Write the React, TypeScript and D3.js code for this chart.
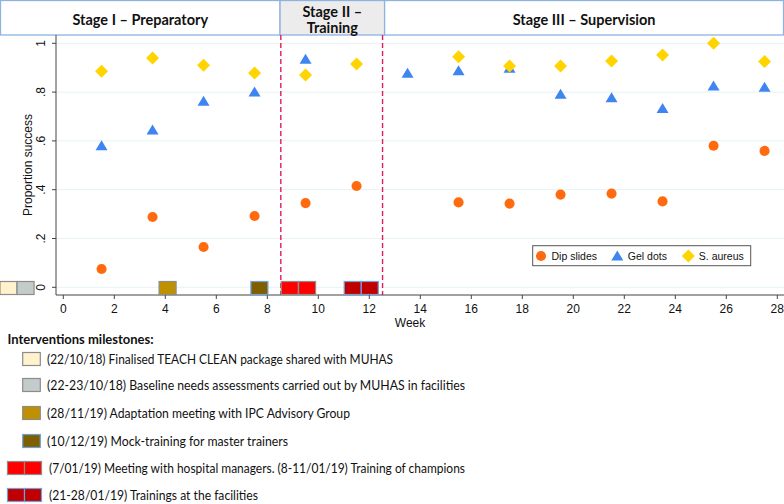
import React from "react";
import * as d3 from "d3";

const weeks = [1.5, 3.5, 5.5, 7.5, 9.5, 11.5, 13.5, 15.5, 17.5, 19.5, 21.5, 23.5, 25.5, 27.5];
const dipSlides: (number | null)[] = [0.075, 0.288, 0.165, 0.292, 0.345, 0.415, null, 0.348, 0.343, 0.38, 0.384, 0.352, 0.58, 0.559];
const gelDots: (number | null)[] = [0.58, 0.645, 0.763, 0.8, 0.935, null, 0.877, 0.888, 0.898, 0.791, 0.777, 0.733, 0.825, 0.82];
const sAureus: (number | null)[] = [0.885, 0.94, 0.91, 0.878, 0.87, 0.915, null, 0.945, 0.907, 0.907, 0.927, 0.952, 1.0, 0.925];

const xTicks = [0, 2, 4, 6, 8, 10, 12, 14, 16, 18, 20, 22, 24, 26, 28];
const yTicks = [0, 0.2, 0.4, 0.6, 0.8, 1];
const yTickLabels = ["0", ".2", ".4", ".6", ".8", "1"];

const stageNames = ["Stage I \u2013 Preparatory", "Stage II \u2013|Training", "Stage III \u2013 Supervision"];
const stageBounds = [[-2.48, 8.5], [8.5, 12.6], [12.6, 28.3]];
const trainingWindow = [8.53, 12.52];

const milestoneWeeks = [-2.15, -1.48, 4.09, 7.69, 8.88, 9.56, 11.35, 12.02];
const milestoneKind = [0, 1, 2, 3, 4, 4, 5, 5];
const milestoneFill = ["#fff2cc", "#c4cccb", "#bf9000", "#7f6000", "#ff0000", "#c00000"];
const milestoneStroke = ["#8c8c8c", "#8c8c8c", "#8c8c8c", "#6fa0dc", "#8c8c8c", "#6fa0dc"];
const milestoneLabels = [
  "(22/10/18) Finalised TEACH CLEAN package shared with MUHAS",
  "(22-23/10/18) Baseline needs assessments carried out by MUHAS in facilities",
  "(28/11/19) Adaptation meeting with IPC Advisory Group",
  "(10/12/19) Mock-training for master trainers",
  "(7/01/19) Meeting with hospital managers. (8-11/01/19) Training of champions",
  "(21-28/01/19) Trainings at the facilities",
];
const seriesNames = ["Dip slides", "Gel dots", "S. aureus"];
const seriesColors = ["#ff6a0e", "#3f85f2", "#ffd400"];

// layout (not data): rendered widths of the milestone text lines
const milestoneTextWidths = [346, 418, 303, 241, 416, 209];

const W = 784;
const H = 504;
const x = d3.scaleLinear().domain([0, 28]).range([63.3, 777.3]);
const y = d3.scaleLinear().domain([0, 1]).range([287.3, 43.3]);

const AX = 56;
const AY = 295;
const TOP = 35;
const cal = "Lato, 'Open Sans', sans-serif";
const ari = "'Liberation Sans', Arial, sans-serif";

const circlePath = d3.symbol(d3.symbolCircle, 80)()!;
const triPath = "M0,-5.5L6,4.5L-6,4.5Z";
const diaPath = "M0,-6.5L6.5,0L0,6.5L-6.5,0Z";

function Marker({ kind, cx, cy }: { kind: number; cx: number; cy: number }) {
  const d = kind === 0 ? circlePath : kind === 1 ? triPath : diaPath;
  return <path d={d} transform={`translate(${cx},${cy})`} fill={seriesColors[kind]} />;
}

export default function App() {
  const series = [dipSlides, gelDots, sAureus];
  const legendRows = [359, 385, 413, 441, 468, 495];
  return (
    <div style={{ position: "fixed", left: 0, top: 0 }}>
      <svg width={W} height={H} style={{ display: "block", background: "#fff" }}>
        {stageBounds.map((b, i) => {
          const x0 = Math.max(0.5, x(b[0]));
          const x1 = Math.min(W - 0.5, x(b[1]));
          return (
            <g key={i}>
              <rect x={x0} y={0.5} width={x1 - x0} height={TOP - 0.5} fill={i === 1 ? "#ececec" : "#fff"} stroke="#8db3e2" strokeWidth={1.3} />
              {stageNames[i].split("|").map((t, j, arr) => (
                <text key={j} x={(x0 + x1) / 2} y={arr.length === 1 ? 19 : 11 + j * 16} textAnchor="middle" dominantBaseline="central" fontFamily={cal} fontWeight={700} fontSize={14.5} fill="#111">
                  {t}
                </text>
              ))}
            </g>
          );
        })}
        {yTicks.map((t, i) => (
          <line key={i} x1={AX} x2={W} y1={y(t)} y2={y(t)} stroke="#e6f2f4" strokeWidth={1} />
        ))}
        {trainingWindow.map((w, i) => (
          <line key={i} x1={x(w)} x2={x(w)} y1={TOP} y2={AY} stroke="#e5195f" strokeWidth={1.4} strokeDasharray="5,3" />
        ))}
        <line x1={AX} x2={AX} y1={TOP} y2={AY} stroke="#444" strokeWidth={1} />
        <line x1={AX} x2={W} y1={AY} y2={AY} stroke="#444" strokeWidth={1} />
        {yTicks.map((t, i) => (
          <g key={i}>
            <line x1={AX - 4} x2={AX} y1={y(t)} y2={y(t)} stroke="#444" />
            <text transform={`translate(${41},${y(t)}) rotate(-90)`} textAnchor="middle" dominantBaseline="central" fontFamily={ari} fontSize={12} fill="#111">
              {yTickLabels[i]}
            </text>
          </g>
        ))}
        {xTicks.map((t, i) => (
          <g key={i}>
            <line x1={x(t)} x2={x(t)} y1={AY} y2={AY + 4} stroke="#444" />
            <text x={x(t)} y={309} textAnchor="middle" dominantBaseline="central" fontFamily={ari} fontSize={12} fill="#111">
              {t}
            </text>
          </g>
        ))}
        <text x={410} y={323} textAnchor="middle" dominantBaseline="central" fontFamily={ari} fontSize={12} fill="#111">Week</text>
        <text transform={`translate(28,165) rotate(-90)`} textAnchor="middle" dominantBaseline="central" fontFamily={ari} fontSize={12} fill="#111">Proportion success</text>
        {milestoneWeeks.map((w, i) => (
          <rect key={i} x={x(w) - 8.5} y={281.5} width={17} height={13} fill={milestoneFill[milestoneKind[i]]} stroke={milestoneStroke[milestoneKind[i]]} strokeWidth={1.2} />
        ))}
        {series.map((s, k) =>
          s.map((v, i) => (v == null ? null : <Marker key={`${k}-${i}`} kind={k} cx={x(weeks[i])} cy={y(v)} />))
        )}
        <rect x={532.7} y={245.7} width={218} height={20} fill="#fff" stroke="#555" strokeWidth={1} />
        {seriesNames.map((n, k) => {
          const mx = [541, 617.3, 688.3][k];
          return (
            <g key={k}>
              <Marker kind={k} cx={mx} cy={256} />
              <text x={mx + 10.5} y={256} dominantBaseline="central" fontFamily={ari} fontSize={10.5} fill="#111">{n}</text>
            </g>
          );
        })}
        <text x={7.5} y={339} dominantBaseline="central" fontFamily={cal} fontWeight={700} fontSize={13} fill="#111">Interventions  milestones:</text>
        {milestoneLabels.map((lab, i) => {
          const cy = legendRows[i];
          const double = i >= 4;
          return (
            <g key={i}>
              {double ? (
                <>
                  <rect x={7.5} y={cy - 6.5} width={17} height={13} fill={milestoneFill[i]} stroke={milestoneStroke[i]} strokeWidth={1.2} />
                  <rect x={24.5} y={cy - 6.5} width={17} height={13} fill={milestoneFill[i]} stroke={milestoneStroke[i]} strokeWidth={1.2} />
                </>
              ) : (
                <rect x={22.7} y={cy - 6.5} width={17.6} height={13} fill={milestoneFill[i]} stroke={milestoneStroke[i]} strokeWidth={1.2} />
              )}
              <text x={double ? 49 : 47} y={cy} dominantBaseline="central" fontFamily={cal} fontSize={13} textLength={milestoneTextWidths[i]} lengthAdjust="spacingAndGlyphs" fill="#111">{lab}</text>
            </g>
          );
        })}
      </svg>
    </div>
  );
}
